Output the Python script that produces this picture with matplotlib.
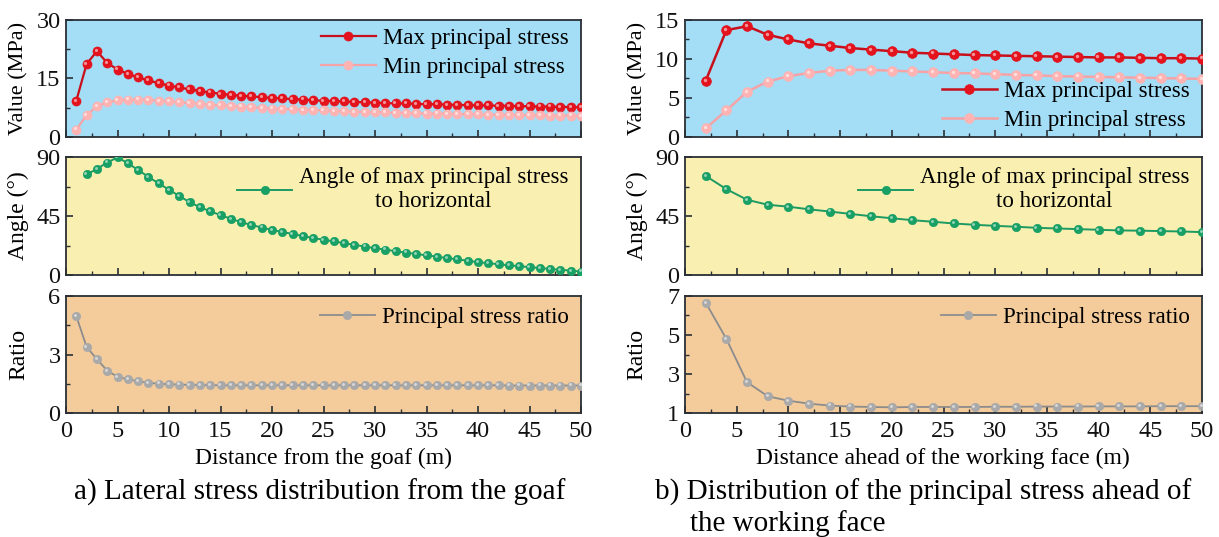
import numpy as np
import matplotlib
matplotlib.use("Agg")
import matplotlib.pyplot as plt
from matplotlib.ticker import MultipleLocator
from matplotlib.transforms import offset_copy

plt.rcParams['font.family'] = ['Liberation Serif', 'DejaVu Serif']
plt.rcParams['mathtext.fontset'] = 'stix'

# ---------------- data ----------------
x_a = list(range(1, 51))
max_a = [9.3, 18.7, 22.0, 19.0, 17.3, 16.2, 15.3, 14.5, 13.8, 13.2, 12.7, 12.2, 11.8, 11.4, 11.1,
         10.8, 10.6, 10.4, 10.2, 10.0, 9.9, 9.7, 9.6, 9.4, 9.3, 9.2, 9.1, 9.0, 8.9, 8.8,
         8.7, 8.6, 8.6, 8.5, 8.4, 8.4, 8.3, 8.2, 8.2, 8.1, 8.1, 8.0, 8.0, 7.9, 7.9,
         7.8, 7.8, 7.7, 7.7, 7.6]
min_a = [1.9, 5.6, 7.9, 8.9, 9.4, 9.6, 9.6, 9.5, 9.3, 9.1, 8.9, 8.7, 8.5, 8.3, 8.1,
         7.9, 7.8, 7.6, 7.5, 7.3, 7.2, 7.1, 7.0, 6.9, 6.8, 6.7, 6.6, 6.5, 6.4, 6.4,
         6.3, 6.2, 6.2, 6.1, 6.0, 6.0, 5.9, 5.9, 5.8, 5.8, 5.7, 5.7, 5.7, 5.6, 5.6,
         5.6, 5.5, 5.5, 5.5, 5.4]
x_angle_a = list(range(2, 51))
angle_a = [76.7, 80.9, 85.8, 89.7, 85.3, 80.1, 74.9, 69.8, 65.1, 60.2, 55.6, 51.7, 48.6, 45.7,
           42.9, 40.3, 38.2, 36.2, 34.4, 32.8, 31.3, 29.7, 28.2, 26.9, 25.6, 24.3, 23.0, 21.7,
           20.4, 19.4, 18.1, 17.1, 16.0, 15.0, 14.0, 12.9, 11.9, 10.9, 9.8, 9.0, 8.2, 7.4,
           6.7, 6.0, 5.3, 4.6, 4.0, 3.3, 2.6]
ratio_a = [4.97, 3.39, 2.76, 2.17, 1.86, 1.73, 1.63, 1.54, 1.51, 1.47, 1.46, 1.44, 1.43, 1.43, 1.42,
           1.42, 1.42, 1.42, 1.42, 1.42, 1.42, 1.42, 1.42, 1.42, 1.42, 1.42, 1.42, 1.42, 1.42, 1.42,
           1.42, 1.42, 1.42, 1.42, 1.42, 1.42, 1.42, 1.42, 1.42, 1.42, 1.42, 1.42, 1.41, 1.41, 1.41,
           1.41, 1.41, 1.41, 1.41, 1.41]

x_b = list(range(2, 51, 2))
max_b = [7.2, 13.7, 14.2, 13.1, 12.5, 12.0, 11.7, 11.4, 11.2, 11.0, 10.8, 10.7, 10.6,
         10.5, 10.45, 10.4, 10.35, 10.3, 10.25, 10.2, 10.2, 10.15, 10.1, 10.1, 10.05]
min_b = [1.1, 3.4, 5.8, 7.1, 7.8, 8.2, 8.5, 8.6, 8.6, 8.5, 8.4, 8.3, 8.2,
         8.15, 8.05, 7.95, 7.9, 7.8, 7.75, 7.7, 7.65, 7.6, 7.55, 7.5, 7.45]
angle_b = [75.6, 65.5, 57.4, 53.6, 52.1, 50.1, 48.4, 46.6, 44.8, 43.3, 41.8, 40.6, 39.3,
           38.3, 37.5, 36.8, 36.0, 35.5, 35.0, 34.5, 34.0, 33.8, 33.5, 33.2, 32.7]
ratio_b = [6.66, 4.80, 2.58, 1.86, 1.63, 1.48, 1.38, 1.33, 1.31, 1.29, 1.31, 1.31, 1.31,
           1.31, 1.32, 1.32, 1.33, 1.33, 1.33, 1.34, 1.34, 1.34, 1.35, 1.35, 1.35]

x_ticks = [0, 5, 10, 15, 20, 25, 30, 35, 40, 45, 50]

# ---------------- styles ----------------
BG_TOP = '#a3ddf6'
BG_MID = '#f9efb0'
BG_BOT = '#f4cc9c'
SPINE = '#2a2f35'

C_MAX = '#e3121c'; L_MAX = '#c8101c'
C_MIN = '#ffb3b3'; L_MIN = '#f5a3a6'
C_ANG = '#18a065'; L_ANG = '#1d9a62'
C_RAT = '#a9a9a9'; L_RAT = '#8c8c8c'

TICK_FS = 17.5
LAB_FS = 17
YLAB_FS = 16
LEG_FS = 16.5
CAP_FS = 21

fig = plt.figure(figsize=(12.19, 5.37), dpi=100)


def sphere(ax, x, y, face, line, ms=6.5, lw=1.6, label=None, highlight='#ffffff'):
    ax.plot(x, y, '-', color=line, lw=lw, marker='o', ms=ms, mfc=face,
            mec=face, mew=0.5, label=label, zorder=3)
    tr = offset_copy(ax.transData, fig=fig, x=-0.8, y=0.8, units='points')
    ax.plot(x, y, 'o', ms=ms * 0.35, mfc=highlight, mec='none', alpha=0.55,
            transform=tr, zorder=4)


def style(ax, bg, ylim, ymajor, yminor, xlabels):
    ax.set_facecolor(bg)
    ax.set_xlim(0, 50)
    ax.set_ylim(*ylim)
    ax.set_xticks(x_ticks)
    ax.xaxis.set_minor_locator(MultipleLocator(2.5))
    ax.set_yticks(ymajor)
    ax.yaxis.set_minor_locator(MultipleLocator(yminor))
    ax.tick_params(direction='in', which='both', top=False, right=False,
                   labelsize=TICK_FS, colors='#111111')
    ax.tick_params(axis='y', pad=4)
    ax.tick_params(axis='x', pad=6)
    ax.tick_params(which='major', length=5, width=1.2, color=SPINE)
    ax.tick_params(which='minor', length=3, width=1.0, color=SPINE)
    if not xlabels:
        ax.tick_params(labelbottom=False)
    for s in ax.spines.values():
        s.set_color(SPINE)
        s.set_linewidth(1.3)


def make_leg(ax, loc, anchor=None, center_text=False, spacing=0.15):
    kw = dict(loc=loc, frameon=False, fontsize=LEG_FS, handlelength=2.4,
              handletextpad=0.3, borderaxespad=0.15, labelspacing=spacing)
    if anchor is not None:
        kw['bbox_to_anchor'] = anchor
    leg = ax.legend(**kw)
    if center_text:
        for t in leg.get_texts():
            t.set_multialignment('center')
    return leg


LEFT_X0, LEFT_W = 66 / 1219, 515 / 1219
RIGHT_X0, RIGHT_W = 685 / 1219, 517 / 1219
rows = [(0.7449, 0.2179), (0.4879, 0.2197), (0.2309, 0.2179)]

# ---------------- left (a) ----------------
ax1 = fig.add_axes([LEFT_X0, rows[0][0], LEFT_W, rows[0][1]])
sphere(ax1, x_a, max_a, C_MAX, L_MAX, label='Max principal stress')
sphere(ax1, x_a, min_a, C_MIN, L_MIN, label='Min principal stress')
style(ax1, BG_TOP, (0, 30), [0, 15, 30], 7.5, False)
ax1.set_ylabel('Value (MPa)', fontsize=YLAB_FS)
make_leg(ax1, 'upper right', (1.0, 1.04), spacing=0.35)

ax2 = fig.add_axes([LEFT_X0, rows[1][0], LEFT_W, rows[1][1]])
sphere(ax2, x_angle_a, angle_a, C_ANG, L_ANG, ms=6, lw=1.4,
       label='Angle of max principal stress\nto horizontal')
style(ax2, BG_MID, (0, 90), [0, 45, 90], 22.5, False)
ax2.set_ylabel('Angle (°)', fontsize=LAB_FS)
make_leg(ax2, 'upper right', (1.0, 1.02), center_text=True)

ax3 = fig.add_axes([LEFT_X0, rows[2][0], LEFT_W, rows[2][1]])
sphere(ax3, x_a, ratio_a, C_RAT, L_RAT, ms=6, lw=1.3, label='Principal stress ratio')
style(ax3, BG_BOT, (0, 6), [0, 3, 6], 1.5, True)
ax3.set_ylabel('Ratio', fontsize=LAB_FS)
make_leg(ax3, 'upper right', (1.0, 1.01))

# ---------------- right (b) ----------------
bx1 = fig.add_axes([RIGHT_X0, rows[0][0], RIGHT_W, rows[0][1]])
sphere(bx1, x_b, max_b, C_MAX, L_MAX, ms=7, lw=1.8, label='Max principal stress')
sphere(bx1, x_b, min_b, C_MIN, L_MIN, ms=7, lw=1.8, label='Min principal stress')
style(bx1, BG_TOP, (0, 15), [0, 5, 10, 15], 2.5, False)
bx1.set_ylabel('Value (MPa)', fontsize=YLAB_FS)
make_leg(bx1, 'lower right', (1.0, -0.055), spacing=0.35)

bx2 = fig.add_axes([RIGHT_X0, rows[1][0], RIGHT_W, rows[1][1]])
sphere(bx2, x_b, angle_b, C_ANG, L_ANG, ms=6, lw=1.4,
       label='Angle of max principal stress\nto horizontal')
style(bx2, BG_MID, (0, 90), [0, 45, 90], 22.5, False)
bx2.set_ylabel('Angle (°)', fontsize=LAB_FS)
make_leg(bx2, 'upper right', (1.0, 1.02), center_text=True)

bx3 = fig.add_axes([RIGHT_X0, rows[2][0], RIGHT_W, rows[2][1]])
sphere(bx3, x_b, ratio_b, C_RAT, L_RAT, ms=6, lw=1.3, label='Principal stress ratio')
style(bx3, BG_BOT, (1, 7), [1, 3, 5, 7], 1, True)
bx3.set_ylabel('Ratio', fontsize=LAB_FS)
make_leg(bx3, 'upper right', (1.0, 1.01))

# align y labels
for ax in (ax1, ax2, ax3):
    ax.yaxis.set_label_coords(-0.072, 0.5)
for ax in (bx1, bx2, bx3):
    ax.yaxis.set_label_coords(-0.072, 0.5)

# ---------------- x labels & captions ----------------
fig.text(323 / 1219, 1 - 458 / 537, 'Distance from the goaf (m)',
         ha='center', va='center', fontsize=LAB_FS)
fig.text(943 / 1219, 1 - 458 / 537, 'Distance ahead of the working face (m)',
         ha='center', va='center', fontsize=LAB_FS)
fig.text(320 / 1219, 1 - 492 / 537, 'a) Lateral stress distribution from the goaf',
         ha='center', va='center', fontsize=CAP_FS)
fig.text(655 / 1219, 1 - 492 / 537, 'b) Distribution of the principal stress ahead of',
         ha='left', va='center', fontsize=CAP_FS)
fig.text(690 / 1219, 1 - 524 / 537, 'the working face',
         ha='left', va='center', fontsize=CAP_FS)

fig.savefig('out.png', dpi=100, facecolor='white')
